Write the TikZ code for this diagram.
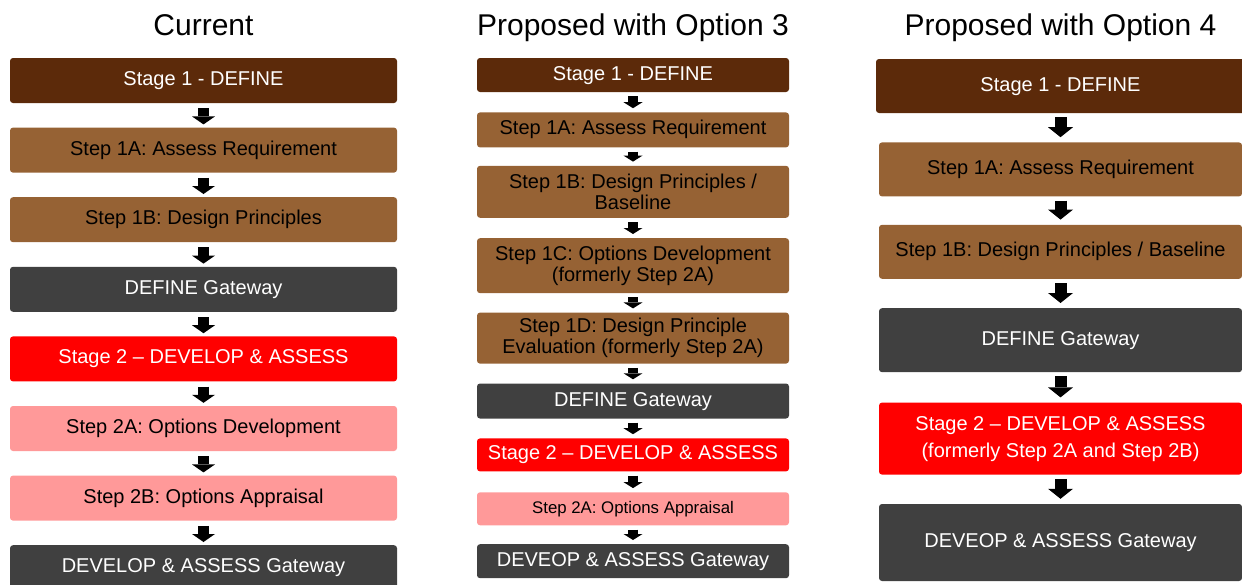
\documentclass[tikz,border=0pt]{standalone}
\usepackage{fontspec}
\setmainfont{Liberation Sans}
\usepackage{xcolor}
\usetikzlibrary{arrows.meta, positioning}

\definecolor{darkbrown}{RGB}{92,42,10}
\definecolor{midbrown}{RGB}{150,98,52}
\definecolor{gatewaygray}{RGB}{64,64,64}
\definecolor{stagered}{RGB}{255,0,0}
\definecolor{steppink}{RGB}{255,153,153}

\begin{document}
\begin{tikzpicture}[
  x=1pt, y=-1pt,
  title/.style={font=\fontsize{30}{36}\selectfont, anchor=base},
  box/.style={rectangle, rounded corners=3pt, align=center, inner sep=0pt, font=\fontsize{20}{21}\selectfont},
  single/.style={text height=14.3pt, text depth=4.2pt},
  stage/.style={box, fill=darkbrown, text=white},
  stepbox/.style={box, fill=midbrown, text=black},
  gate/.style={box, fill=gatewaygray, text=white},
  stagetwo/.style={box, fill=stagered, text=white},
  steptwo/.style={box, fill=steppink, text=black},
  colA/.style={minimum width=387pt, minimum height=45pt},
  colB/.style={minimum width=312pt},
  colC/.style={minimum width=363pt},
  arr/.style={line width=11pt, -{Triangle[length=8pt 0, width=23pt 0, line width=0pt]}, shorten <=5pt, shorten >=3pt},
  arrs/.style={line width=10pt, -{Triangle[length=6pt 0, width=19pt 0, line width=0pt]}, shorten <=4pt, shorten >=4pt},
  arrl/.style={line width=12pt, -{Triangle[length=10pt 0, width=25pt 0, line width=0pt]}, shorten <=4pt, shorten >=5pt}
]
  \useasboundingbox (0,0) rectangle (1242,584);

  % column titles
  \node[title] (tcur) at (203.5,35) {Current};
  \node[title] (topt3) at (633,35) {Proposed with Option 3};
  \node[title] (topt4) at (1060.5,35) {Proposed with Option 4};

  % current process
  \node[stage, colA, single] (a1) at (203.5,80.5) {Stage 1 - DEFINE};
  \node[stepbox, colA, single, below=24.2pt of a1] (a2) {Step 1A: Assess Requirement};
  \node[stepbox, colA, single, below=24.2pt of a2] (a3) {Step 1B: Design Principles};
  \node[gate, colA, single, below=24.2pt of a3] (a4) {DEFINE Gateway};
  \node[stagetwo, colA, single, below=24.2pt of a4] (a5) {Stage 2 -- DEVELOP \& ASSESS};
  \node[steptwo, colA, single, below=24.2pt of a5] (a6) {Step 2A: Options Development};
  \node[steptwo, colA, single, below=24.2pt of a6] (a7) {Step 2B: Options Appraisal};
  \node[gate, colA, single, below=24.2pt of a7] (a8) {DEVELOP \& ASSESS Gateway};

  % option 3
  \node[stage, colB, single, minimum height=34pt] (b1) at (633,75) {Stage 1 - DEFINE};
  \node[stepbox, colB, single, minimum height=35pt, below=20pt of b1] (b2) {Step 1A: Assess Requirement};
  \node[stepbox, colB, minimum height=52pt, below=18pt of b2] (b3) {Step 1B: Design Principles /\\Baseline};
  \node[stepbox, colB, minimum height=55pt, below=20pt of b3] (b4) {Step 1C: Options Development\\(formerly Step 2A)};
  \node[stepbox, colB, minimum height=51pt, below=19pt of b4] (b5) {Step 1D: Design Principle\\Evaluation (formerly Step 2A)};
  \node[gate, colB, single, minimum height=35pt, below=19.5pt of b5] (b6) {DEFINE Gateway};
  \node[stagetwo, colB, single, minimum height=33pt, below=19.5pt of b6] (b7) {Stage 2 -- DEVELOP \& ASSESS};
  \node[steptwo, colB, minimum height=33pt, below=20.5pt of b7, font=\fontsize{16.8}{18}\selectfont, text height=12pt, text depth=3.5pt] (b8) {Step 2A: Options Appraisal};
  \node[gate, colB, single, minimum height=34pt, below=18.5pt of b8] (b9) {DEVEOP \& ASSESS Gateway};

  % option 4
  \node[stage, colC, single, minimum width=369pt, minimum height=54pt] (c1) at (1060.5,86) {Stage 1 - DEFINE};
  \node[stepbox, colC, single, minimum height=54pt, below=29pt of c1] (c2) {Step 1A: Assess Requirement};
  \node[stepbox, colC, single, minimum height=54pt, below=28pt of c2] (c3) {Step 1B: Design Principles / Baseline};
  \node[gate, colC, single, minimum height=64pt, below=29pt of c3] (c4) {DEFINE Gateway};
  \node[stagetwo, colC, minimum height=72pt, below=30pt of c4, font=\fontsize{20}{27}\selectfont] (c5) {Stage 2 -- DEVELOP \& ASSESS\\(formerly Step 2A and Step 2B)};
  \node[gate, colC, single, minimum height=77pt, below=29pt of c5] (c6) {DEVEOP \& ASSESS Gateway};

  \foreach \i [evaluate=\i as \j using int(\i+1)] in {1,...,7}
    \draw[arr] (a\i) -- (a\j);
  \foreach \i [evaluate=\i as \j using int(\i+1)] in {1,...,8}
    \draw[arrs] (b\i) -- (b\j);
  \foreach \i [evaluate=\i as \j using int(\i+1)] in {1,...,5}
    \draw[arrl] (c\i) -- (c\j);
\end{tikzpicture}
\end{document}
